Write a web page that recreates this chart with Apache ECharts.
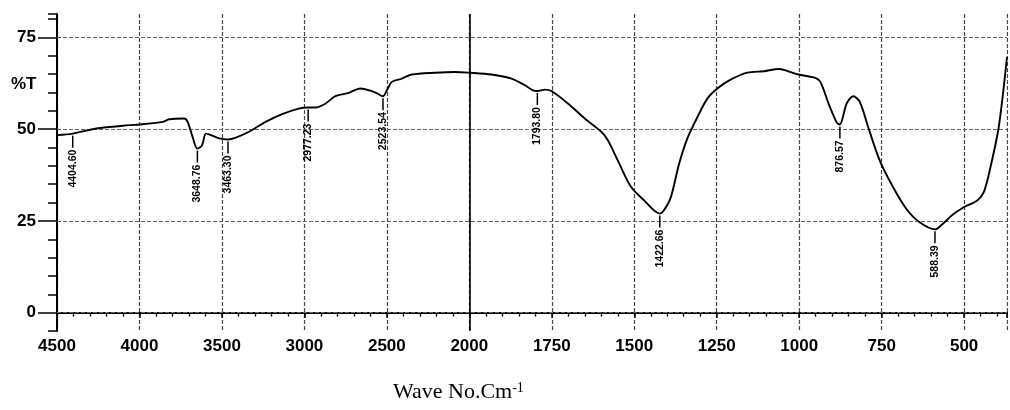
<!DOCTYPE html>
<html>
<head>
<meta charset="utf-8">
<script src="https://cdn.jsdelivr.net/npm/echarts@6/dist/echarts.min.js"></script>
<style>html,body{margin:0;padding:0;background:#fff;}#c{width:1010px;height:410px;}</style>
</head>
<body>
<div id="c"></div>
<script>
// ---- data ----
const wavenumbers = [4500,4404,4262,4060,4000,3859,3819,3728,3708,3678,3649,3621,3597,3567,3517,3463,3416,3336,3235,3135,3034,2977,2933,2872,2812,2731,2661,2591,2560,2524,2500,2470,2409,2349,2208,2087,2000,1933,1872,1832,1807,1794,1771,1751,1701,1650,1600,1580,1550,1510,1470,1423,1410,1389,1364,1339,1308,1278,1248,1208,1157,1107,1062,1037,1002,956,936,911,886,877,856,836,816,791,756,716,676,636,588,566,536,500,460,440,420,395,370];
const transmittance = [48.4,48.8,50.2,51.1,51.3,52.0,52.7,52.9,52.0,47.9,44.7,45.6,48.8,48.4,47.5,47.2,47.7,49.3,52.0,54.1,55.6,55.9,55.9,57.0,59.0,59.9,61.1,60.4,59.8,59.0,60.6,62.9,63.8,64.9,65.4,65.6,65.4,64.9,63.8,62.0,60.6,60.4,60.8,60.4,57.0,52.9,49.3,47.0,41.5,34.3,30.6,27.0,27.9,31.5,40.6,47.5,53.4,58.4,61.1,63.5,65.4,65.8,66.4,65.9,64.9,64.1,62.9,57.0,51.8,51.3,57.0,59.0,57.4,50.6,41.5,34.3,28.4,24.7,22.7,24.1,26.6,28.8,30.6,32.9,39.7,50.6,69.7];
const peakWavenumbers = [4404.60,3648.76,3463.30,2977.23,2523.54,1793.80,1422.66,876.57,588.39];
const peakTransmittance = [48.8,44.7,47.2,55.9,59.0,60.4,27.0,51.3,22.7];
const peakLabels = ['4404.60','3648.76','3463.30','2977.23','2523.54','1793.80','1422.66','876.57','588.39'];
const xTickLabels = ['4500','4000','3500','3000','2500','2000','1750','1500','1250','1000','750','500'];
const yTickLabels = [0,25,50,75];
const xTitle = 'Wave No.Cm';
const xTitleSup = '-1';
const yTitle = '%T';

// axis is split: 500 per division above 2000, 250 per division below
function toU(w){ return w >= 2000 ? (4500 - w) / 500 : 5 + (2000 - w) / 250; }

const lineData = wavenumbers.map((w,i)=>[toU(w), transmittance[i]]);
const peakData = peakWavenumbers.map((w,i)=>[toU(w), peakTransmittance[i]]);

const FONT = '"Liberation Sans", Arial, sans-serif';
const chart = echarts.init(document.getElementById('c'), null, {renderer:'canvas'});
chart.setOption({
  animation:false,
  backgroundColor:'#fff',
  grid:{left:57, right:0, top:14, bottom:79, containLabel:false},
  xAxis:[{
    type:'value', min:0, max:11.52, interval:1, position:'bottom',
    axisLine:{show:true, lineStyle:{color:'#000', width:2}},
    axisTick:{show:true, length:5, lineStyle:{color:'#000', width:1.5}},
    minorTick:{show:true, splitNumber:5, length:4, lineStyle:{color:'#000', width:1.3}},
    axisLabel:{margin:7, color:'#000', fontWeight:'bold', fontSize:17, fontFamily:FONT,
      formatter:(v)=>{ const i=Math.round(v); return (Math.abs(v-i)<1e-6 && xTickLabels[i]!==undefined)? xTickLabels[i] : ''; }},
    splitLine:{show:true, lineStyle:{color:'#444', width:1.2, type:[4,2]}}
  },{
    type:'value', min:0, max:11.52, position:'top',
    axisLine:{show:true, lineStyle:{color:'#000', width:2}},
    axisTick:{show:false}, axisLabel:{show:false}, splitLine:{show:false}
  }],
  yAxis:[{
    type:'value', min:-5, max:81.4, interval:5, position:'left',
    axisLine:{show:true, lineStyle:{color:'#000', width:2}},
    axisTick:{show:true, length:19, customValues:yTickLabels, lineStyle:{color:'#000', width:1.5}},
    axisLabel:{margin:21, color:'#000', fontWeight:'bold', fontSize:17, fontFamily:FONT,
      customValues:yTickLabels,
      formatter:(v)=> yTickLabels.indexOf(Math.round(v))>=0 && Math.abs(v-Math.round(v))<1e-6 ? String(Math.round(v)) : ''},
    splitLine:{show:false}
  },{
    type:'value', min:-5, max:81.4, interval:5, position:'left',
    axisLine:{show:false},
    axisTick:{show:true, length:9, lineStyle:{color:'#000', width:1.5}},
    axisLabel:{show:false}, splitLine:{show:false}
  }],
  graphic:[
    {type:'text', left:11, top:76, style:{text:yTitle, font:'bold 17px '+FONT, fill:'#000'}},
    {type:'text', x:393, y:392, style:{
      text:'{a|'+xTitle+'}{b|'+xTitleSup+'}', verticalAlign:'middle', align:'left',
      rich:{a:{font:'22px "Liberation Serif", "Times New Roman", serif', fill:'#000'},
            b:{font:'14px "Liberation Serif", "Times New Roman", serif', fill:'#000', verticalAlign:'top'}}
    }}
  ],
  series:[{
    type:'line', xAxisIndex:0, yAxisIndex:0, data:lineData, showSymbol:false, smooth:0.3,
    lineStyle:{color:'#000', width:1.9}, z:5,
    markLine:{silent:true, symbol:['none','none'], label:{show:false},
      lineStyle:{color:'#666', width:1.2, type:[4,2]},
      data: yTickLabels.map(v=>({yAxis:v})).concat([{xAxis:toU(2000), lineStyle:{color:'#000', width:1.6, type:'solid'}}])
    }
  },{
    type:'custom', xAxisIndex:0, yAxisIndex:0, data:peakData, z:6,
    renderItem:(params, api)=>{
      const p = api.coord([api.value(0), api.value(1)]);
      return {type:'group', children:[
        {type:'line', shape:{x1:p[0], y1:p[1]+2, x2:p[0], y2:p[1]+14}, style:{stroke:'#000', lineWidth:1.5}},
        {type:'text', x:p[0], y:p[1]+16, rotation:Math.PI/2,
          style:{text:peakLabels[params.dataIndex], align:'right', verticalAlign:'middle', font:'bold 10.5px '+FONT, fill:'#000'}}
      ]};
    }
  }]
});
</script>
</body>
</html>
